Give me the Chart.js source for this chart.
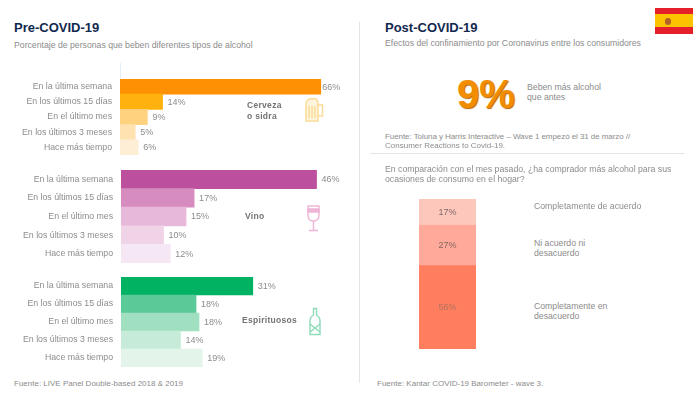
<!DOCTYPE html>
<html lang="es">
<head>
<meta charset="utf-8">
<title>Pre y Post COVID-19</title>
<script src="https://cdn.jsdelivr.net/npm/chart.js@4"></script>
<style>
  html, body { margin: 0; padding: 0; background: #fff; }
  body { width: 700px; height: 394px; position: relative; overflow: hidden; font-family: "Liberation Sans", Arial, sans-serif; color: #8c8c8c; }
  canvas, .t, .rule, svg, .flag { position: absolute; }
  .t { white-space: nowrap; line-height: 10px; font-size: 8.7px; }
  .src { font-size: 8px; }
  .h { font-weight: bold; font-size: 13px; line-height: 16px; color: #12294f; }
  .cat { font-weight: bold; font-size: 8.5px; color: #737373; letter-spacing: .3px; }
  .big { font-weight: bold; font-size: 40px; line-height: 40px; color: #f28c00; text-shadow: 1px 1px 1px #b8660a; }
  .flag { left: 655px; top: 8px; width: 38px; height: 26px; background: linear-gradient(#e5202a 0 25%, #fcc400 25% 75%, #e5202a 75%); }
  .flag i { position: absolute; left: 10px; top: 10px; width: 6px; height: 7px; border-radius: 3px; background: #b5622a; }
  .rule { background: #e4e4e4; }
</style>
</head>
<body>
<div class="t h" style="left:14px;top:20px">Pre-COVID-19</div>
<div class="t" style="left:14px;top:40px">Porcentaje de personas que beben diferentes tipos de alcohol</div>
<div class="t h" style="left:385px;top:20px">Post-COVID-19</div>
<div class="t" style="left:385px;top:38px">Efectos del confinamiento por Coronavirus entre los consumidores</div>
<div class="flag"><i></i></div>

<div class="rule" style="left:359px;top:22px;width:1px;height:361px"></div>
<div class="rule" style="left:370px;top:153px;width:314px;height:1px"></div>
<div class="rule" style="left:120px;top:63px;width:1px;height:16px;background:#e3eef5"></div>

<canvas id="beerChart" width="350" height="76" style="left:0;top:79px"></canvas>
<canvas id="wineChart" width="350" height="93" style="left:1px;top:170px"></canvas>
<canvas id="spiritsChart" width="350" height="90" style="left:1px;top:277px"></canvas>
<canvas id="agreeChart" width="57" height="150" style="left:419px;top:199px"></canvas>

<div class="t cat" style="left:247px;top:100px;line-height:11px">Cerveza<br>o sidra</div>
<div class="t cat" style="left:245px;top:211px">Vino</div>
<div class="t cat" style="left:242px;top:315px">Espirituosos</div>

<svg style="left:304px;top:96px" width="20" height="27" viewBox="0 0 20 27" fill="none" stroke="#fbdc98" stroke-width="1.5">
  <path d="M2 7 Q4 2 8 3 Q12 1 14 6 L14 25 L2 25 Z" fill="#fff5dd"/>
  <path d="M14 9 H18.5 V20 H14 M5 10 V22 M8 10 V22 M11 10 V22"/>
</svg>
<svg style="left:306px;top:204px" width="15" height="28" viewBox="0 0 15 28" fill="none" stroke="#eeb5d6" stroke-width="1.4">
  <path d="M2 2 H13 V11 Q13 17 7.5 17 Q2 17 2 11 Z"/>
  <path d="M2 5 H13 V8 H2 Z" fill="#eeb5d6"/>
  <path d="M7.5 17 V26 M3 26.5 H12"/>
</svg>
<svg style="left:309px;top:307px" width="12" height="29" viewBox="0 0 12 29" fill="none" stroke="#8edbb8" stroke-width="1.4">
  <path d="M4.5 1.5 H7.5 V8 Q11 10 11 14 V27.5 H1 V14 Q1 10 4.5 8 Z"/>
  <path d="M1 17 L6 21 L11 17 M1 25 L6 21 L11 25"/>
</svg>

<div class="t big" style="left:457px;top:74px">9%</div>
<div class="t" style="left:527px;top:82px">Beben más alcohol</div>
<div class="t" style="left:527px;top:92px">que antes</div>
<div class="t src" style="left:385px;top:132px;letter-spacing:-.07px">Fuente: Toluna y Harris Interactive – Wave 1 empezó el 31 de marzo //</div>
<div class="t src" style="left:385px;top:141px">Consumer Reactions to Covid-19.</div>
<div class="t" style="left:385px;top:164px">En comparación con el mes pasado, ¿ha comprador más alcohol para sus</div>
<div class="t" style="left:385px;top:174px">ocasiones de consumo en el hogar?</div>

<div class="t" style="left:534px;top:201px">Completamente de acuerdo</div>
<div class="t" style="left:534px;top:238px">Ni acuerdo ni</div>
<div class="t" style="left:534px;top:248px">desacuerdo</div>
<div class="t" style="left:534px;top:301px">Completamente en</div>
<div class="t" style="left:534px;top:311px">desacuerdo</div>

<div class="t src" style="left:14px;top:379px">Fuente: LIVE Panel Double-based 2018 &amp; 2019</div>
<div class="t src" style="left:377px;top:379px">Fuente: Kantar COVID-19 Barometer - wave 3.</div>

<script>
// values
var periods = ['En la última semana', 'En los últimos 15 días', 'En el último mes', 'En los últimos 3 meses', 'Hace más tiempo']

var beer_vals = [66, 14, 9, 5, 6]
// bar lengths sit a little off the printed labels, the labels are these rounded
var wine_vals = [46, 17.2, 15.3, 10, 11.6]
var spirits_vals = [31, 17.65, 18.35, 14, 19.1]

var beer_colors = ['#fd9103', '#ffb20d', '#ffd27f', '#ffe2b0', '#fdeed5']
var wine_colors = ['#bd509e', '#d78cc0', '#e7b8d9', '#f1d3e7', '#f6e7f4']
var spirits_colors = ['#00b261', '#5cc998', '#a1dfc1', '#c6ebd9', '#e3f4eb']

var agree_names = ['Completamente de acuerdo', 'Ni acuerdo ni desacuerdo', 'Completamente en desacuerdo']
var agree_vals = [17, 27, 56]
var agree_colors = ['#fec7bc', '#fea999', '#fe7e5f']
var agree_label_colors = ['#7d6a66', '#85685f', '#b3705f']

var endLabels = {
    id: 'endLabels',
    afterDatasetsDraw: function (chart) {
        var ctx = chart.ctx
        ctx.save()
        ctx.font = '9px "Liberation Sans", Arial, sans-serif'
        ctx.textBaseline = 'middle'
        chart.getDatasetMeta(0).data.forEach(function (bar, i) {
            var val = chart.data.datasets[0].data[i]
            // the first beer bar nearly touches its label
            var gap = val > 60 ? 1.5 : 5
            ctx.fillStyle = '#8c8c8c'
            ctx.fillText(Math.round(val) + '%', bar.x + gap, bar.y + 0.5)
        })
        ctx.restore()
    }
}

var centerLabels = {
    id: 'centerLabels',
    afterDatasetsDraw: function (chart) {
        var ctx = chart.ctx
        ctx.save()
        ctx.font = '9px "Liberation Sans", Arial, sans-serif'
        ctx.textAlign = 'center'
        ctx.textBaseline = 'middle'
        chart.data.datasets.forEach(function (ds, i) {
            var bar = chart.getDatasetMeta(i).data[0]
            ctx.fillStyle = agree_label_colors[i]
            ctx.fillText(ds.data[0] + '%', bar.x, (bar.y + bar.base) / 2 + 0.5)
        })
        ctx.restore()
    }
}

function hbar(id, vals, colors, axisMax) {
    new Chart(document.getElementById(id), {
        type: 'bar',
        data: {
            labels: periods,
            datasets: [{ data: vals, backgroundColor: colors, barPercentage: 1, categoryPercentage: 1 }]
        },
        options: {
            indexAxis: 'y',
            responsive: false,
            animation: false,
            layout: { padding: 0 },
            plugins: { legend: { display: false }, tooltip: { enabled: false } },
            scales: {
                x: { display: false, min: 0, max: axisMax },
                y: {
                    // fixed gutter, and no extra room above and below for the tick labels
                    afterFit: function (scale) {
                        scale.width = 120
                        scale.paddingTop = 0
                        scale.paddingBottom = 0
                    },
                    grid: { display: false, drawTicks: false },
                    border: { color: '#e3eef5' },
                    ticks: { padding: 8, color: '#8c8c8c', font: { family: '"Liberation Sans", Arial, sans-serif', size: 8.75 } }
                }
            }
        },
        plugins: [endLabels]
    })
}

hbar('beerChart', beer_vals, beer_colors, 75.6)
hbar('wineChart', wine_vals, wine_colors, 54.1)
hbar('spiritsChart', spirits_vals, spirits_colors, 54.1)

new Chart(document.getElementById('agreeChart'), {
    type: 'bar',
    data: {
        labels: ['Acuerdo'],
        datasets: agree_vals.map(function (v, i) {
            return { label: agree_names[i], data: [v], backgroundColor: agree_colors[i], barPercentage: 1, categoryPercentage: 1 }
        })
    },
    options: {
        responsive: false,
        animation: false,
        layout: { padding: 0 },
        plugins: { legend: { display: false }, tooltip: { enabled: false } },
        scales: {
            x: { display: false, stacked: true },
            y: { display: false, stacked: true, min: 0, max: 100, reverse: true }
        }
    },
    plugins: [centerLabels]
})
</script>
</body>
</html>
